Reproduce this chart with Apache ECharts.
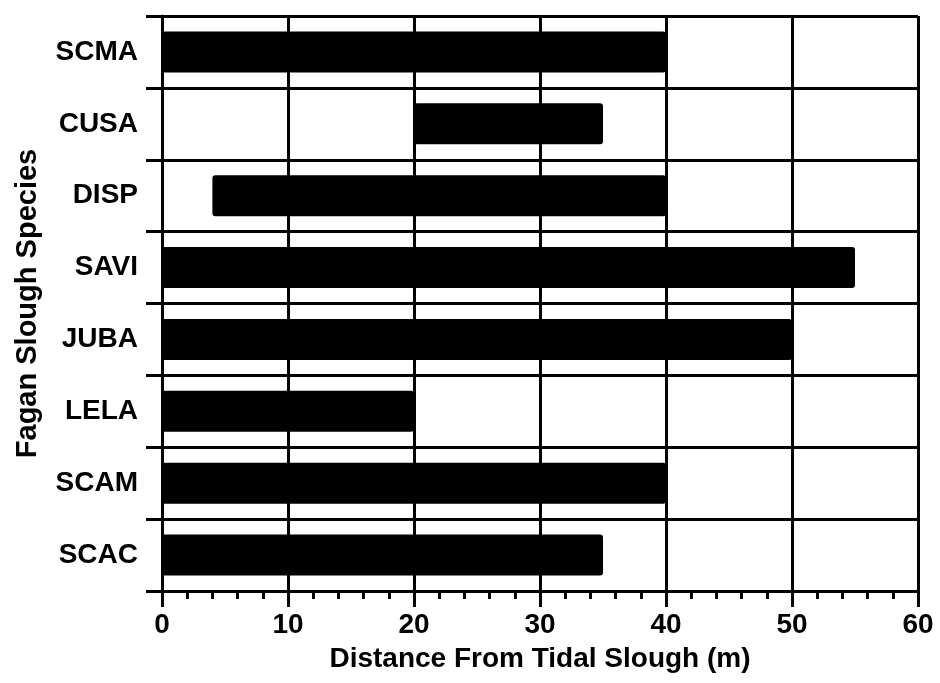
<!DOCTYPE html>
<html><head><meta charset="utf-8">
<script src="https://cdn.jsdelivr.net/npm/echarts@6/dist/echarts.min.js"></script>
<style>html,body{margin:0;padding:0;background:#fff}#c{width:940px;height:683px}</style>
</head><body><div id="c"></div>
<script>
const categories = ['SCMA','CUSA','DISP','SAVI','JUBA','LELA','SCAM','SCAC'];
const startValues = [0, 20, 4, 0, 0, 0, 0, 0];
const endValues = [40, 35, 40, 55, 50, 20, 40, 35];
const xTicks = [0, 10, 20, 30, 40, 50, 60];

const lengths = endValues.map((e, i) => e - startValues[i]);
const font = '"Liberation Sans", Arial, sans-serif';
const chart = echarts.init(document.getElementById('c'), null, {renderer: 'canvas'});
chart.setOption({
  animation: false,
  backgroundColor: '#fff',
  grid: {left: 162, right: 22, top: 16, bottom: 92, containLabel: false, outerBoundsMode: 'none'},
  xAxis: {
    type: 'value', min: xTicks[0], max: xTicks[xTicks.length - 1], interval: 10,
    name: 'Distance From Tidal Slough (m)', nameLocation: 'middle', nameGap: 54,
    nameTextStyle: {fontFamily: font, fontWeight: 'bold', fontSize: 28, color: '#000'},
    axisLine: {show: true, lineStyle: {color: '#000', width: 3}},
    axisTick: {show: true, length: 16, lineStyle: {color: '#000', width: 3}},
    minorTick: {show: true, splitNumber: 5, length: 8, lineStyle: {color: '#000', width: 3}},
    axisLabel: {fontFamily: font, fontWeight: 'bold', fontSize: 28, color: '#000', margin: 20},
    splitLine: {show: true, lineStyle: {color: '#000', width: 3}}
  },
  yAxis: {
    type: 'category', data: categories, inverse: true, boundaryGap: true,
    name: 'Fagan Slough Species', nameLocation: 'middle', nameGap: 120, nameRotate: 90,
    nameTextStyle: {fontFamily: font, fontWeight: 'bold', fontSize: 29, color: '#000'},
    axisLine: {show: true, lineStyle: {color: '#000', width: 3}},
    axisTick: {show: true, length: 16, alignWithLabel: false, lineStyle: {color: '#000', width: 3}},
    axisLabel: {fontFamily: font, fontWeight: 'bold', fontSize: 28, color: '#000', margin: 24},
    splitLine: {show: true, lineStyle: {color: '#000', width: 3}}
  },
  series: [
    {type: 'bar', stack: 'r', data: startValues, barWidth: 41, itemStyle: {color: 'transparent'}, silent: true},
    {type: 'bar', stack: 'r', data: lengths, barWidth: 41, itemStyle: {color: '#000', borderRadius: 3}, z: 3}
  ]
});
</script></body></html>
